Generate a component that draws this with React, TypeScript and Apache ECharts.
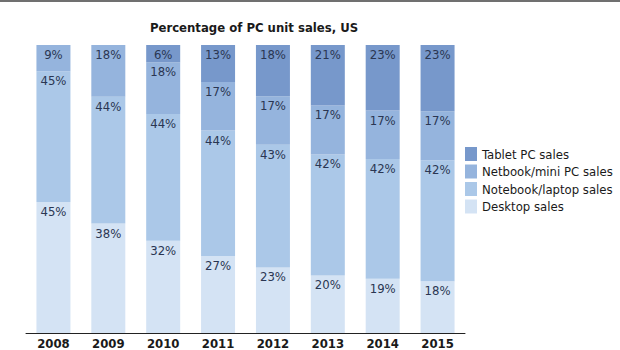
import React, { useEffect, useRef } from "react";
import * as echarts from "echarts";

const years = ["2008", "2009", "2010", "2011", "2012", "2013", "2014", "2015"];
const desktop = [45, 38, 32, 27, 23, 20, 19, 18];
const notebook = [45, 44, 44, 44, 43, 42, 42, 42];
const netbook = [9, 18, 18, 17, 17, 17, 17, 17];
const tablet = [0, 0, 6, 13, 18, 21, 23, 23];

const seriesNames = ["Desktop sales", "Notebook/laptop sales", "Netbook/mini PC sales", "Tablet PC sales"];
const colors = ["#d4e3f4", "#abc8e8", "#95b4dd", "#7798cb"];

const FONT = "'DejaVu Sans Condensed', 'Open Sans', sans-serif";

export default function App() {
  const ref = useRef<HTMLDivElement>(null);
  useEffect(() => {
    document.body.style.margin = "0";
    const chart = echarts.init(ref.current!, null, { renderer: "svg" });
    const raw = [desktop, notebook, netbook, tablet];
    const totals = years.map((_, i) => raw.reduce((s, arr) => s + arr[i], 0));
    const series = raw.map((arr, k) => ({
      name: seriesNames[k],
      type: "bar",
      stack: "all",
      barWidth: 34,
      itemStyle: { color: colors[k] },
      data: arr.map((v, i) => ({ value: v === 0 ? null : (v / totals[i]) * 100, raw: v })),
      label: {
        show: true,
        position: "insideTop",
        distance: 3,
        color: "#2a3652",
        fontSize: 13,
        fontFamily: FONT,
        formatter: (p: any) => (p.data && p.data.raw ? p.data.raw + "%" : ""),
      },
    }));
    chart.setOption({
      animation: false,
      textStyle: { fontFamily: FONT },
      grid: { left: 26, width: 439, top: 45, bottom: 15 },
      xAxis: {
        type: "category",
        data: years,
        axisLine: { lineStyle: { color: "#222", width: 1 } },
        axisTick: { show: false },
        axisLabel: { color: "#1a1a1a", fontWeight: "bold", fontSize: 13, fontFamily: FONT, margin: 4 },
      },
      yAxis: { type: "value", min: 0, max: 100, show: false, splitLine: { show: false } },
      legend: {
        orient: "vertical",
        left: 460,
        top: 142,
        itemWidth: 12,
        itemHeight: 14,
        itemGap: 3.5,
        icon: "rect",
        data: ["Tablet PC sales", "Netbook/mini PC sales", "Notebook/laptop sales", "Desktop sales"],
        textStyle: { color: "#1a1a1a", fontSize: 13, fontFamily: FONT },
      },
      graphic: [
        { type: "rect", shape: { x: 0, y: 0, width: 620, height: 2 }, style: { fill: "#707070" } },
        {
          type: "text",
          x: 254,
          y: 27,
          style: {
            text: "Percentage of PC unit sales, US",
            textAlign: "center",
            textVerticalAlign: "middle",
            fontSize: 13,
            fontWeight: "bold",
            fontFamily: FONT,
            fill: "#1a1a1a",
          },
        },
      ],
      series,
    });
    return () => chart.dispose();
  }, []);
  return <div ref={ref} style={{ width: 620, height: 350 }} />;
}
